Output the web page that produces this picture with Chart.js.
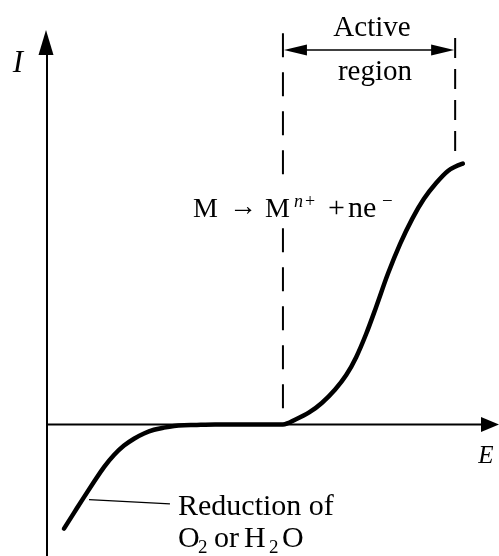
<!DOCTYPE html>
<html>
<head>
<meta charset="utf-8">
<script src="https://cdn.jsdelivr.net/npm/chart.js@4.4.1/dist/chart.umd.min.js"></script>
<style>
  html, body { margin: 0; padding: 0; background: #fff; }
  #wrap { width: 499px; height: 556px; }
</style>
</head>
<body>
<div id="wrap"><canvas id="c" width="499" height="556"></canvas></div>
<script>
// Polarization curve of a metal: electrode potential E vs current I (arbitrary units)
const potential = [0.376, 0.597, 0.819, 1.040, 1.261, 1.482, 1.704, 1.925, 2.146, 2.367, 2.588, 2.810,
                   3.031, 3.252, 3.717, 4.49, 5.22,
                   5.51, 5.80, 6.08, 6.37, 6.62, 6.84, 7.06, 7.28, 7.54, 7.81, 8.08, 8.34, 8.61, 8.87, 9.05, 9.20];
const current   = [-1.98, -1.68, -1.38, -1.09, -0.81, -0.58, -0.40, -0.27, -0.17, -0.10, -0.06, -0.03,
                   -0.015, -0.01, 0, 0, 0,
                   0.10, 0.23, 0.41, 0.66, 0.94, 1.28, 1.72, 2.23, 2.86, 3.43, 3.91, 4.29, 4.59, 4.82, 4.91, 4.96];

// Bounds of the active region (potentials) and guide-line extents (currents)
const activeBounds = [5.22, 9.03];
const guideTop     = [7.44, 7.35];
const guideBottom  = [0, 5.12];
const spanLevel    = 7.12;

// Leader line for the cathodic branch label
const leaderE = [0.93, 2.72];
const leaderI = [-1.43, -1.51];

const axisRange = { eMin: 0, eMax: 10, iMin: -2.5, iMax: 7.5 };

const curve = potential.map((e, k) => ({ x: e, y: current[k] }));

const SERIF = '"Liberation Serif", "Times New Roman", serif';

function arrowHead(ctx, tipX, tipY, dirX, dirY, len, half) {
  const bx = tipX - dirX * len, by = tipY - dirY * len;
  const nx = -dirY, ny = dirX;
  ctx.beginPath();
  ctx.moveTo(tipX, tipY);
  ctx.lineTo(bx + nx * half, by + ny * half);
  ctx.lineTo(bx - nx * half, by - ny * half);
  ctx.closePath();
  ctx.fill();
}

const diagram = {
  id: 'diagram',
  beforeDatasetsDraw(chart) {
    const ctx = chart.ctx, xs = chart.scales.x, ys = chart.scales.y;
    const X = v => xs.getPixelForValue(v), Y = v => ys.getPixelForValue(v);
    const x0 = X(0), y0 = Y(0);
    ctx.save();
    ctx.strokeStyle = '#000';
    ctx.fillStyle = '#000';

    // axes
    ctx.lineWidth = 2;
    ctx.beginPath();
    ctx.moveTo(x0, Y(axisRange.iMin));
    ctx.lineTo(x0, Y(axisRange.iMax) + 20);
    ctx.moveTo(x0, y0);
    ctx.lineTo(X(axisRange.eMax) - 16, y0);
    ctx.stroke();
    arrowHead(ctx, x0 - 1, Y(axisRange.iMax), 0, -1, 25, 7.5);
    arrowHead(ctx, X(axisRange.eMax), y0, 1, 0, 18, 7.5);

    // dashed guides bounding the active region
    ctx.lineWidth = 2;
    const dashes = [[24, 15], [20, 11]];
    activeBounds.forEach((e, k) => {
      ctx.setLineDash(dashes[k]);
      ctx.beginPath();
      ctx.moveTo(X(e), Y(guideTop[k]));
      ctx.lineTo(X(e), Y(guideBottom[k]));
      ctx.stroke();
    });
    ctx.setLineDash([]);

    // double-headed span arrow
    const ax1 = X(activeBounds[0]), ax2 = X(activeBounds[1]), ay = Y(spanLevel);
    ctx.lineWidth = 1.6;
    ctx.beginPath();
    ctx.moveTo(ax1 + 15, ay);
    ctx.lineTo(ax2 - 15, ay);
    ctx.stroke();
    arrowHead(ctx, ax1 + 1, ay, -1, 0, 23, 5.5);
    arrowHead(ctx, ax2 - 1, ay, 1, 0, 23, 5.5);

    // leader line
    ctx.lineWidth = 1.3;
    ctx.beginPath();
    ctx.moveTo(X(leaderE[0]), Y(leaderI[0]));
    ctx.lineTo(X(leaderE[1]), Y(leaderI[1]));
    ctx.stroke();
    ctx.restore();
  },
  afterDatasetsDraw(chart) {
    const ctx = chart.ctx;
    ctx.save();
    ctx.fillStyle = '#000';
    ctx.textBaseline = 'alphabetic';

    // axis titles
    ctx.textAlign = 'center';
    ctx.font = 'italic 31px ' + SERIF;
    ctx.fillText('I', 18, 72);
    ctx.font = 'italic 25px ' + SERIF;
    ctx.fillText('E', 486, 463);

    // active region label
    ctx.font = '29px ' + SERIF;
    ctx.fillText('Active', 372, 36);
    ctx.fillText('region', 375, 80);

    // anodic dissolution reaction
    ctx.textAlign = 'left';
    ctx.fillStyle = '#fff';
    ctx.fillRect(262, 188, 36, 40);
    ctx.fillStyle = '#000';
    ctx.font = '28px ' + SERIF;
    ctx.fillText('M', 193, 217);
    ctx.fillText('\u2192', 229, 215);
    ctx.fillText('M', 265, 217);
    ctx.font = 'italic 18px ' + SERIF;
    ctx.fillText('n', 294, 207);
    ctx.font = '18px ' + SERIF;
    ctx.fillText('+', 305, 207);
    ctx.font = '30px ' + SERIF;
    ctx.fillText('+', 328, 217);
    ctx.fillText('ne', 348, 217);
    ctx.font = '19px ' + SERIF;
    ctx.fillText('\u2212', 382, 207);

    // cathodic branch label
    ctx.font = '30px ' + SERIF;
    ctx.fillText('Reduction of', 178, 515);
    ctx.fillText('O', 178, 547);
    ctx.fillText('or', 214, 547);
    ctx.fillText('H', 244, 547);
    ctx.fillText('O', 282, 547);
    ctx.font = '19px ' + SERIF;
    ctx.fillText('2', 198, 553);
    ctx.fillText('2', 269, 553);
    ctx.restore();
  }
};

new Chart(document.getElementById('c'), {
  type: 'line',
  data: {
    datasets: [{
      data: curve,
      borderColor: '#000',
      borderWidth: 4.5,
      borderCapStyle: 'round',
      borderJoinStyle: 'round',
      cubicInterpolationMode: 'monotone',
      pointRadius: 0,
      fill: false
    }]
  },
  options: {
    responsive: false,
    animation: false,
    devicePixelRatio: 1,
    layout: { padding: { left: 47, top: 30, right: 0, bottom: 0 } },
    scales: {
      x: { type: 'linear', min: axisRange.eMin, max: axisRange.eMax, display: false },
      y: { type: 'linear', min: axisRange.iMin, max: axisRange.iMax, display: false }
    },
    plugins: { legend: { display: false }, tooltip: { enabled: false } },
    events: []
  },
  plugins: [diagram]
});
</script>
</body>
</html>
